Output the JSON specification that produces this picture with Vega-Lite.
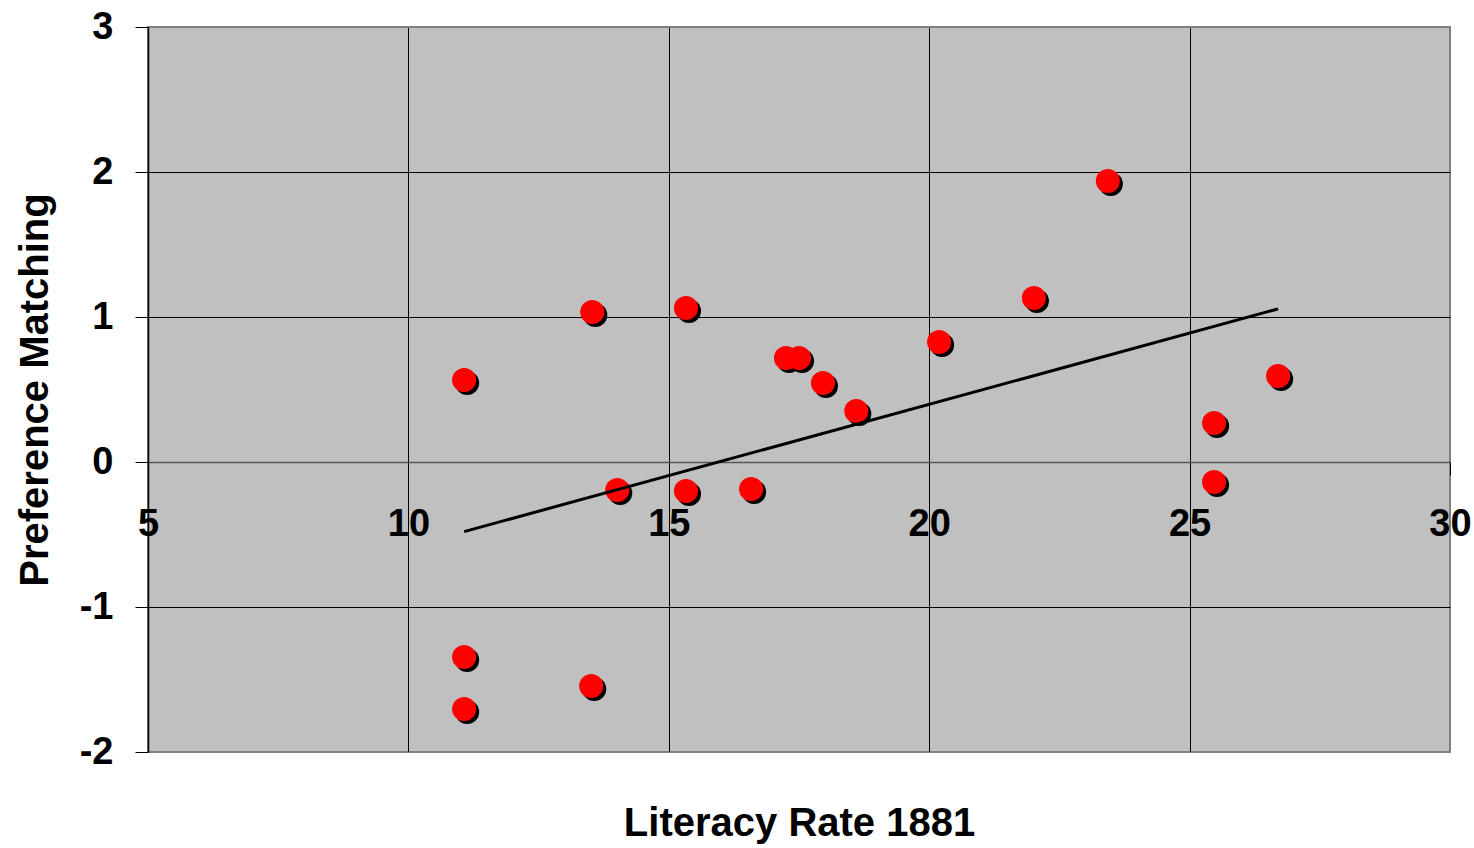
{
  "$schema": "https://vega.github.io/schema/vega-lite/v6.json",
  "width": 1302,
  "height": 725,
  "autosize": "none",
  "padding": {"left": 148, "top": 27, "right": 24, "bottom": 96},
  "background": "white",
  "config": {
    "view": {"fill": "#C0C0C0", "stroke": "#808080", "strokeWidth": 2},
    "font": "Liberation Sans"
  },
  "datasets": {
    "points": [
      {"x": 11.07, "y": 0.566},
      {"x": 13.53, "y": 1.034},
      {"x": 15.33, "y": 1.062},
      {"x": 23.43, "y": 1.938},
      {"x": 22.01, "y": 1.131},
      {"x": 20.19, "y": 0.828},
      {"x": 17.25, "y": 0.717},
      {"x": 17.5, "y": 0.717},
      {"x": 17.96, "y": 0.545},
      {"x": 18.6, "y": 0.352},
      {"x": 14.01, "y": -0.193},
      {"x": 15.33, "y": -0.2},
      {"x": 16.58, "y": -0.186},
      {"x": 25.47, "y": 0.269},
      {"x": 25.47, "y": -0.138},
      {"x": 26.7, "y": 0.593},
      {"x": 11.07, "y": -1.345},
      {"x": 11.07, "y": -1.703},
      {"x": 13.51, "y": -1.545}
    ],
    "trend": [
      {"x": 11.07, "y": -0.48},
      {"x": 26.7, "y": 1.056}
    ]
  },
  "encoding": {
    "x": {
      "field": "x",
      "type": "quantitative",
      "scale": {"domain": [5, 30], "nice": false, "zero": false},
      "axis": {
        "title": "Literacy Rate 1881",
        "values": [5, 10, 15, 20, 25, 30],
        "labelExpr": "'' + datum.value",
        "offset": -290,
        "grid": true,
        "gridColor": {"condition": {"test": "datum.value == 5 || datum.value == 30", "value": "#808080"}, "value": "#000000"},
        "gridWidth": 1,
        "gridOpacity": 1,
        "domain": true,
        "domainColor": "#555555",
        "domainWidth": 1.5,
        "ticks": true,
        "tickSize": 13,
        "tickColor": "#000000",
        "tickWidth": 1,
        "labelPadding": 30,
        "labelFont": "Liberation Sans",
        "labelFontSize": 38,
        "labelFontWeight": "bold",
        "labelColor": "#000000",
        "labelFlush": false,
        "labelOverlap": false,
        "labelBaseline": "top",
        "titleFont": "Liberation Sans",
        "titleFontSize": 40,
        "titleFontWeight": "bold",
        "titleColor": "#000000",
        "titleX": 651,
        "titleY": 373,
        "titleBaseline": "alphabetic",
        "titleAlign": "center"
      }
    },
    "y": {
      "field": "y",
      "type": "quantitative",
      "scale": {"domain": [-2, 3], "nice": false, "zero": false},
      "axis": {
        "title": "Preference Matching",
        "values": [-2, -1, 0, 1, 2, 3],
        "labelExpr": "'' + datum.value",
        "grid": true,
        "gridColor": {"condition": {"test": "datum.value == -2 || datum.value == 3", "value": "#808080"}, "value": "#000000"},
        "gridWidth": 1,
        "gridOpacity": 1,
        "domain": true,
        "domainColor": "#000000",
        "domainWidth": 1.5,
        "ticks": true,
        "tickSize": 13,
        "tickColor": "#000000",
        "tickWidth": 1,
        "labelPadding": 22,
        "labelFont": "Liberation Sans",
        "labelFontSize": 38,
        "labelFontWeight": "bold",
        "labelColor": "#000000",
        "labelFlush": false,
        "labelOverlap": false,
        "titleFont": "Liberation Sans",
        "titleFontSize": 40,
        "titleFontWeight": "bold",
        "titleColor": "#000000",
        "titleX": -101,
        "titleY": 362.5,
        "titleAngle": -90,
        "titleBaseline": "alphabetic",
        "titleAlign": "center"
      }
    }
  },
  "layer": [
    {
      "data": {"name": "points"},
      "mark": {"type": "circle", "size": 580, "color": "#000000", "opacity": 1, "xOffset": 3, "yOffset": 3}
    },
    {
      "data": {"name": "points"},
      "mark": {"type": "circle", "size": 580, "color": "#FF0000", "opacity": 1}
    },
    {
      "data": {"name": "trend"},
      "mark": {"type": "line", "color": "#000000", "strokeWidth": 3}
    }
  ]
}
